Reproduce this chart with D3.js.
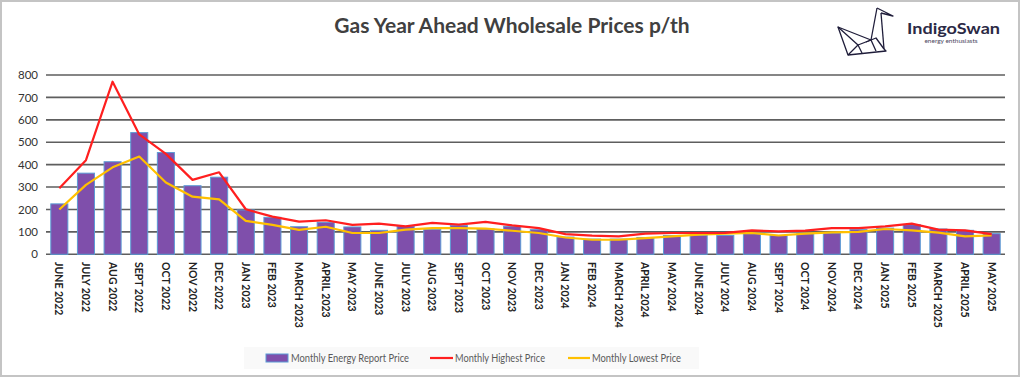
<!DOCTYPE html>
<html>
<head>
<meta charset="utf-8">
<script src="https://cdn.jsdelivr.net/npm/d3@7/dist/d3.min.js"></script>
<style>
  html, body { margin: 0; padding: 0; background: #ffffff; }
  svg { display: block; }
</style>
</head>
<body>
<svg id="chart" width="1024" height="378"></svg>
<script>
// ---- Data ----
const categories = [
  "JUNE 2022","JULY 2022","AUG 2022","SEPT 2022","OCT 2022","NOV 2022","DEC 2022",
  "JAN 2023","FEB 2023","MARCH 2023","APRIL 2023","MAY 2023","JUNE 2023","JULY 2023",
  "AUG 2023","SEPT 2023","OCT 2023","NOV 2023","DEC 2023","JAN 2024","FEB 2024",
  "MARCH 2024","APRIL 2024","MAY 2024","JUNE 2024","JULY 2024","AUG 2024","SEPT 2024",
  "OCT 2024","NOV 2024","DEC 2024","JAN 2025","FEB 2025","MARCH 2025","APRIL 2025","MAY 2025"
];
const reportPrice = [225,362,413,543,454,306,344,198,165,123,143,122,107,125,111,128,113,125,110,77,68,68,75,84,84,84,92,84,92,95,110,117,132,113,107,92];
const highestPrice = [295,420,770,535,448,332,366,201,168,146,152,131,137,125,140,132,145,129,117,90,83,80,92,95,95,96,107,102,106,117,117,125,137,110,107,90];
const lowestPrice  = [200,310,388,436,320,257,245,149,131,109,123,95,95,110,117,117,115,105,95,75,65,65,72,80,88,92,95,84,92,98,100,113,107,97,80,84];
const yTicks = [0,100,200,300,400,500,600,700,800];
const seriesNames = ["Monthly Energy Report Price","Monthly Highest Price","Monthly Lowest Price"];
const titleText = "Gas Year Ahead Wholesale Prices p/th";

// ---- Layout ----
const svg = d3.select("#chart");
const fontMain = "Lato, 'Open Sans', 'DejaVu Sans', sans-serif";

// outer border
svg.append("rect").attr("x",1).attr("y",1).attr("width",1018).attr("height",375)
  .attr("fill","#ffffff").attr("stroke","#c4c4c4").attr("stroke-width",2);

const x = d3.scaleBand().domain(categories).range([46,1005]).paddingInner(0.36).paddingOuter(0.18);
const y = d3.scaleLinear().domain([0,800]).range([254.3,75]);

// gridlines
svg.append("g").selectAll("line").data(yTicks).join("line")
  .attr("x1",46).attr("x2",1005)
  .attr("y1",d=>y(d)).attr("y2",d=>y(d))
  .attr("stroke","#5e5e5e").attr("stroke-width",1.6);

// y axis labels
const yAxis = d3.axisLeft(y).tickValues(yTicks).tickSize(0).tickPadding(0);
const yg = svg.append("g").attr("transform","translate(38,0)").call(yAxis);
yg.select(".domain").remove();
yg.selectAll("text").attr("font-family",fontMain).attr("font-size",11.5).attr("fill","#333333");

// bars
svg.append("g").selectAll("rect").data(reportPrice).join("rect")
  .attr("x",(d,i)=>x(categories[i]))
  .attr("width",x.bandwidth())
  .attr("y",d=>y(d))
  .attr("height",d=>y(0)-y(d))
  .attr("fill","#7f4fab").attr("stroke","#5b9bd5").attr("stroke-width",1);

// lines
const cx = i => x(categories[i]) + x.bandwidth()/2;
const lineGen = d3.line().x((d,i)=>cx(i)).y(d=>y(d));
svg.append("path").datum(lowestPrice).attr("d",lineGen)
  .attr("fill","none").attr("stroke","#ffc000").attr("stroke-width",2.2).attr("stroke-linejoin","round");
svg.append("path").datum(highestPrice).attr("d",lineGen)
  .attr("fill","none").attr("stroke","#ff1f1f").attr("stroke-width",2.2).attr("stroke-linejoin","round");

// x axis labels (rotated)
const xAxis = d3.axisBottom(x).tickSize(0).tickPadding(0);
const xg = svg.append("g").attr("transform","translate(0,262)").call(xAxis);
xg.select(".domain").remove();
xg.selectAll("text")
  .attr("font-family",fontMain).attr("font-size",10.5).attr("font-weight","bold").attr("fill","#222222")
  .attr("text-anchor","start").attr("dy",null).attr("y",0).attr("x",0)
  .attr("dominant-baseline","central")
  .attr("transform","rotate(90)");

// title
svg.append("text").attr("x",512).attr("y",33).attr("text-anchor","middle")
  .attr("font-family",fontMain).attr("font-size",21).attr("font-weight","bold")
  .attr("fill","#404040").text(titleText);

// logo (swan outline)
const logo = svg.append("g").attr("fill","none").attr("stroke","#1f1d3a").attr("stroke-width",1.3).attr("stroke-linejoin","round");
const swanLines = [
  [[877,8],[893,16],[881,13]],
  [[877,8],[871,40]],
  [[881,13],[884,49]],
  [[871,40],[838,27],[848,55],[886,51],[884,49]],
  [[838,27],[858,45],[848,55]],
  [[858,45],[871,40],[876,51]],
  [[858,45],[862,53]],
  [[866,42],[876,38],[884,49]]
];
logo.selectAll("path").data(swanLines).join("path").attr("d",d=>d3.line()(d));
svg.append("text").attr("x",907).attr("y",34).attr("font-family",fontMain).attr("font-size",16)
  .attr("font-weight","bold").attr("fill","#2b2945")
  .attr("textLength",93).attr("lengthAdjust","spacingAndGlyphs").text("IndigoSwan");
svg.append("text").attr("x",951).attr("y",43).attr("text-anchor","middle").attr("font-family",fontMain).attr("font-size",6.5)
  .attr("fill","#4a4860").text("energy enthusiasts");

// legend
svg.append("rect").attr("x",244).attr("y",347).attr("width",455).attr("height",22).attr("fill","#f9f9f9");
const lg = svg.append("g").attr("font-family",fontMain).attr("font-size",11).attr("fill","#595959");
lg.append("rect").attr("x",266).attr("y",354).attr("width",22).attr("height",8)
  .attr("fill","#7f4fab").attr("stroke","#5b9bd5").attr("stroke-width",1);
lg.append("text").attr("x",291).attr("y",362).attr("textLength",118).attr("lengthAdjust","spacingAndGlyphs").text(seriesNames[0]);
lg.append("line").attr("x1",430).attr("x2",453).attr("y1",358).attr("y2",358).attr("stroke","#ff1f1f").attr("stroke-width",2.2);
lg.append("text").attr("x",455).attr("y",362).attr("textLength",90).attr("lengthAdjust","spacingAndGlyphs").text(seriesNames[1]);
lg.append("line").attr("x1",568).attr("x2",590).attr("y1",358).attr("y2",358).attr("stroke","#ffc000").attr("stroke-width",2.2);
lg.append("text").attr("x",592).attr("y",362).attr("textLength",89).attr("lengthAdjust","spacingAndGlyphs").text(seriesNames[2]);
</script>
</body>
</html>
